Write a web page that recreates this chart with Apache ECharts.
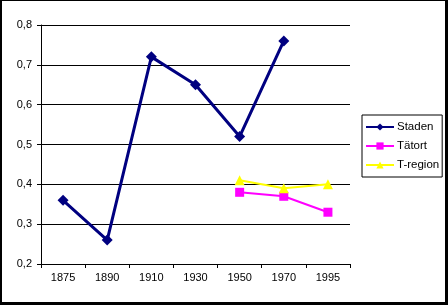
<!DOCTYPE html>
<html>
<head>
<meta charset="utf-8">
<script src="https://cdn.jsdelivr.net/npm/echarts@6/dist/echarts.min.js"></script>
<style>
html,body{margin:0;padding:0;background:#fff;}
#wrap{width:448px;height:305px;box-sizing:border-box;border-style:solid;border-color:#000;border-width:1px 3px 3px 2px;}
#chart{width:443px;height:301px;}
</style>
</head>
<body>
<div id="wrap"><div id="chart"></div></div>
<script>
const categories = ['1875', '1890', '1910', '1930', '1950', '1970', '1995'];
const staden = [0.36, 0.26, 0.72, 0.65, 0.52, 0.76, null];
const tatort = [null, null, null, null, 0.38, 0.37, 0.33];
const tregion = [null, null, null, null, 0.41, 0.39, 0.40];

const chart = echarts.init(document.getElementById('chart'), null, {renderer: 'canvas'});
const font = 'Liberation Sans, Arial, sans-serif';
chart.setOption({
  animation: false,
  backgroundColor: '#fff',
  textStyle: {fontFamily: font},
  grid: {left: 39, right: 95, top: 24, bottom: 38, containLabel: false},
  legend: {
    orient: 'vertical',
    left: 360, top: 114,
    borderColor: '#000', borderWidth: 1, borderRadius: 0,
    padding: [6, 3, 6, 3],
    itemGap: 7,
    itemWidth: 28, itemHeight: 9,
    textStyle: {fontFamily: font, fontSize: 11.5, color: '#000', padding: [0, 0, 0, -2]},
    data: ['Staden', 'Tätort', 'T-region']
  },
  xAxis: {
    type: 'category',
    data: categories,
    boundaryGap: true,
    axisLine: {lineStyle: {color: '#000', width: 1}},
    axisTick: {show: true, length: 4, lineStyle: {color: '#000'}},
    axisLabel: {color: '#000', fontSize: 11, fontFamily: font, margin: 8}
  },
  yAxis: {
    type: 'value',
    min: 0.2, max: 0.8, interval: 0.1,
    axisLine: {show: true, lineStyle: {color: '#000', width: 1}},
    axisTick: {show: true, length: 4, lineStyle: {color: '#000'}},
    splitLine: {lineStyle: {color: '#000', width: 1}},
    axisLabel: {color: '#000', fontSize: 11, fontFamily: font, margin: 9,
      formatter: v => v.toFixed(1).replace('.', ',')}
  },
  series: [
    {name: 'Staden', type: 'line', data: staden, color: '#000080',
     symbol: 'diamond', symbolSize: 11, lineStyle: {width: 3, color: '#000080'},
     itemStyle: {color: '#000080'}},
    {name: 'Tätort', type: 'line', data: tatort, color: '#FF00FF',
     symbol: 'rect', symbolSize: 9, lineStyle: {width: 2, color: '#FF00FF'},
     itemStyle: {color: '#FF00FF'}},
    {name: 'T-region', type: 'line', data: tregion, color: '#FFFF00',
     symbol: 'triangle', symbolSize: 10, lineStyle: {width: 2, color: '#FFFF00'},
     itemStyle: {color: '#FFFF00'}}
  ]
});
</script>
</body>
</html>
